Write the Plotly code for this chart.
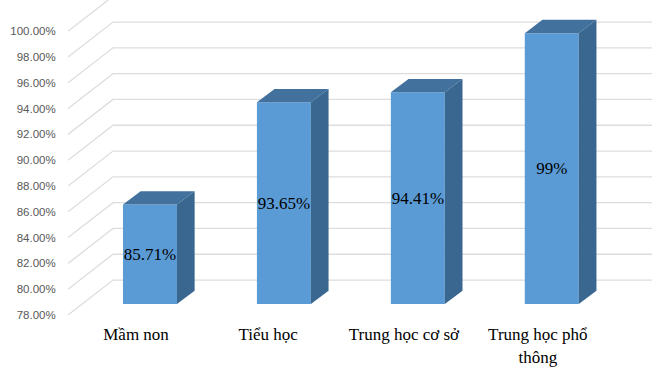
import plotly.graph_objects as go

categories = ["Mầm non", "Tiểu học", "Trung học cơ sở", "Trung học phổ<br>thông"]
values = [85.71, 93.65, 94.41, 99.0]
value_labels = ["85.71%", "93.65%", "94.41%", "99%"]
y_ticks = [78, 80, 82, 84, 86, 88, 90, 92, 94, 96, 98, 100]
y_tick_labels = [f"{t:.2f}%" for t in y_ticks]

# Pseudo-3D projection constants, in axis units
Y_RANGE = [78, 102.42]
X_RANGE = [-0.612, 3.808]
LIFT = 0.85          # bar plane above the front floor edge
BAR_W = 0.403
DEPTH_X, DEPTH_Y = 0.132, 1.03
WALL_LEFT, WALL_RIGHT = -0.276, 3.749
WALL_Y = 2.71
LABEL_SHIFTS = [-0.104, -0.118, -0.104, -0.104]
LABEL_DROP = 0.12
FRONT = "#5B9BD5"; TOP = "#41719C"; SIDE = "#3A6790"; GRID = "#DDDDDD"

fig = go.Figure()

# Wall gridlines and oblique side-wall lines
gx, gy = [], []
for t in y_ticks:
    gx += [X_RANGE[0], WALL_LEFT, WALL_RIGHT, None]
    gy += [t, t + WALL_Y, t + WALL_Y, None]
fig.add_trace(go.Scatter(x=gx, y=gy, mode="lines", line=dict(color=GRID, width=1.3),
                         hoverinfo="skip", showlegend=False))

xs = list(range(len(categories)))
fig.add_trace(go.Bar(x=xs, y=[v - Y_RANGE[0] for v in values], base=Y_RANGE[0],
                     width=BAR_W, marker=dict(color=FRONT, line=dict(width=0)),
                     yaxis="y2", showlegend=False))

for i, v in zip(xs, values):
    l, r = i - BAR_W / 2, i + BAR_W / 2
    b = Y_RANGE[0]
    fig.add_trace(go.Scatter(x=[l, r, r + DEPTH_X, l + DEPTH_X, l],
                             y=[v, v, v + DEPTH_Y, v + DEPTH_Y, v],
                             mode="lines", fill="toself", fillcolor=TOP, line=dict(width=0),
                             yaxis="y2", hoverinfo="skip", showlegend=False))
    fig.add_trace(go.Scatter(x=[r, r + DEPTH_X, r + DEPTH_X, r, r],
                             y=[b, b + DEPTH_Y, v + DEPTH_Y, v, b],
                             mode="lines", fill="toself", fillcolor=SIDE, line=dict(width=0),
                             yaxis="y2", hoverinfo="skip", showlegend=False))

fig.add_trace(go.Scatter(x=xs, y=[(v + Y_RANGE[0]) / 2 - LABEL_DROP for v in values], mode="text",
                         text=value_labels, textposition="middle center",
                         textfont=dict(family="Liberation Serif", size=17, color="#000000"),
                         yaxis="y2", hoverinfo="skip", showlegend=False))

fig.update_layout(
    width=660, height=372, margin=dict(l=68, r=0, t=0, b=57),
    paper_bgcolor="white", plot_bgcolor="white", showlegend=False,
    xaxis=dict(range=X_RANGE, tickmode="array",
               tickvals=[i + s for i, s in zip(xs, LABEL_SHIFTS)],
               ticktext=categories, showgrid=False, zeroline=False, showline=False,
               ticks="outside", ticklen=4, tickcolor="rgba(0,0,0,0)",
               tickfont=dict(family="Liberation Serif", size=17, color="#000000")),
    yaxis=dict(range=Y_RANGE, tickmode="array", tickvals=y_ticks, ticktext=y_tick_labels,
               showgrid=False, zeroline=False, showline=False,
               ticks="outside", ticklen=9, tickcolor="rgba(0,0,0,0)",
               tickfont=dict(family="Liberation Sans", size=11.5, color="#595959")),
    yaxis2=dict(range=[Y_RANGE[0] - LIFT, Y_RANGE[1] - LIFT], overlaying="y", visible=False),
)

fig.write_html("out.html", config={"displayModeBar": False},
               post_script="document.body.style.margin='0';document.body.style.overflow='hidden';")
